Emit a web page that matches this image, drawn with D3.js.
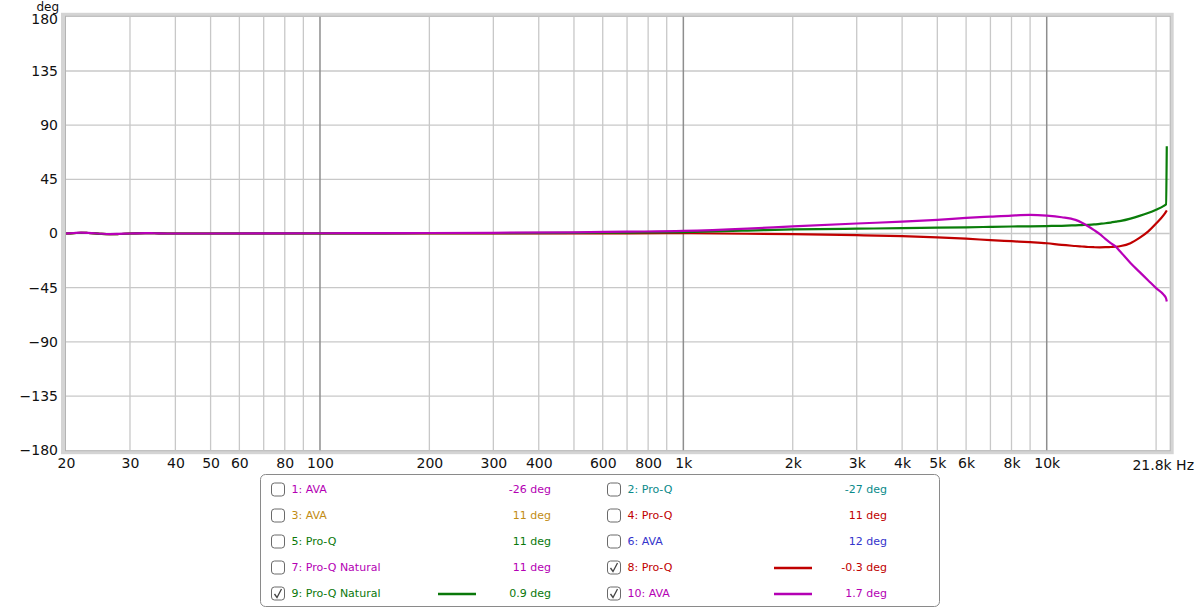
<!DOCTYPE html>
<html><head><meta charset="utf-8">
<script src="https://cdn.jsdelivr.net/npm/d3@7"></script>
<style>
html,body{margin:0;padding:0;background:#fff;}
svg{display:block;font-family:"DejaVu Sans","Noto Sans",sans-serif;}
</style></head>
<body><svg id="c" width="1200" height="609"></svg>
<script>
// ---- data ----
const freqs = [20,21,22,23,24,25,26.4,28,30,33,35,38,40,50,70,100,150,200,300,500,700,1000,1500,2000,3000,4000,5000,6000,7000,8000,9000,10000,11000,12000,12500,13000,13500,14000,14500,15000,15500,16000,17000,18000,19000,20000,21000,21300,21400];
const seriesGreen = [0,0.3,0.6,0.4,0.1,-0.3,-0.6,-0.4,0,0.3,0.2,0,0,0,0.05,0.1,0.15,0.2,0.3,0.5,0.8,1.2,2.4,3.4,4.0,4.4,4.8,5.1,5.5,5.8,6.0,6.2,6.4,6.8,7.0,7.2,7.5,8.0,8.5,9.1,9.8,10.5,12.4,14.6,17.0,19.8,23.0,24.3,72.5];
const seriesRed = [0,0.3,0.6,0.4,0.1,-0.3,-0.6,-0.4,0,0.3,0.2,0,0,0,0,0,0,0,0.05,0.1,0.15,0.2,-0.2,-0.6,-1.4,-2.2,-3.2,-4.3,-5.5,-6.4,-7.2,-8.1,-9.5,-10.4,-10.8,-11.2,-11.4,-11.5,-11.4,-11.2,-11.0,-10.4,-8.0,-3.6,1.6,8.3,15.5,18.2,19.2];
const seriesMagenta = [0,0.4,0.7,0.5,0.2,-0.2,-0.5,-0.3,0,0.3,0.2,0,0,0,0.1,0.2,0.3,0.4,0.6,1.0,1.5,2.1,4.0,5.9,8.3,9.8,11.3,12.9,14.0,14.9,15.4,14.8,13.5,11.3,9.0,6.0,2.8,-0.5,-4.5,-8.0,-11.0,-15.6,-24.5,-31.9,-38.8,-45.4,-51.0,-53.8,-56.5];

const xTickValues = [20,30,40,50,60,80,100,200,300,400,600,800,1000,2000,3000,4000,5000,6000,8000,10000];
const xTickLabels = ["20","30","40","50","60","80","100","200","300","400","600","800","1k","2k","3k","4k","5k","6k","8k","10k"];
const xEndLabel = "21.8k Hz";
const yTickValues = [180,135,90,45,0,-45,-90,-135,-180];
const yUnit = "deg";
const gridFreqs = [20,30,40,50,60,70,80,90,100,200,300,400,500,600,700,800,900,1000,2000,3000,4000,5000,6000,7000,8000,9000,10000,20000];
const decadeFreqs = [100,1000,10000];

const legendLabels = ["1: AVA","2: Pro-Q","3: AVA","4: Pro-Q","5: Pro-Q","6: AVA","7: Pro-Q Natural","8: Pro-Q","9: Pro-Q Natural","10: AVA"];
const legendValues = ["-26 deg","-27 deg","11 deg","11 deg","11 deg","12 deg","11 deg","-0.3 deg","0.9 deg","1.7 deg"];
const legendColors = ["#b400b4","#0a8a8a","#c28c14","#c00000","#0a780a","#3434cc","#b400b4","#c00000","#0a780a","#b400b4"];
const legendChecked = [false,false,false,false,false,false,false,true,true,true];

// ---- layout ----
const svg = d3.select("#c");
const x = d3.scaleLog().domain([20,21800]).range([66,1169.7]);
const y = d3.scaleLinear().domain([-180,180]).range([450.2,16.8]);
const L = 66, R = 1169.7, T = 16.8, B = 450.2;

// frame
svg.append("rect").attr("x",L-3).attr("y",T-2).attr("width",R-L+5).attr("height",B-T+4)
  .attr("fill","none").attr("stroke","#d4d4d4").attr("stroke-width",4);
svg.append("rect").attr("x",L-0.5).attr("y",T-0.5).attr("width",R-L+1).attr("height",B-T+1)
  .attr("fill","#fff").attr("stroke","#b4b4b4").attr("stroke-width",1);

// grid
const g = svg.append("g");
g.selectAll("line.h").data(yTickValues.filter(v=>v!==180 && v!==-180)).join("line")
  .attr("x1",L).attr("x2",R).attr("y1",d=>y(d)).attr("y2",d=>y(d))
  .attr("stroke","#c8c8c8").attr("stroke-width",1.3);
g.selectAll("line.v").data(gridFreqs.filter(f=>f>20)).join("line")
  .attr("x1",d=>x(d)).attr("x2",d=>x(d)).attr("y1",T).attr("y2",B)
  .attr("stroke",d=>decadeFreqs.includes(d)?"#8e8e8e":"#c8c8c8")
  .attr("stroke-width",d=>decadeFreqs.includes(d)?1.5:1.3);

// y axis labels
const yAxis = d3.axisLeft(y).tickValues(yTickValues).tickSize(0).tickPadding(0).tickFormat(d3.format("d"));
const ya = svg.append("g").attr("transform","translate(58,0)").call(yAxis);
ya.select(".domain").remove();
ya.selectAll("text").attr("font-size",14).attr("fill","#111").attr("font-family","DejaVu Sans");
ya.selectAll(".tick").filter(d=>d===180).select("text").attr("dy","0.5em");
svg.append("text").attr("x",59).attr("y",10.5).attr("text-anchor","end").attr("font-size",12).attr("fill","#111").text(yUnit);

// x axis labels
const xAxis = d3.axisBottom(x).tickValues(xTickValues).tickSize(0).tickPadding(0)
  .tickFormat((d,i)=>xTickLabels[i]);
const xa = svg.append("g").attr("transform","translate(0,458)").call(xAxis);
xa.select(".domain").remove();
xa.selectAll("text").attr("font-size",14).attr("fill","#111").attr("font-family","DejaVu Sans");
svg.append("text").attr("x",1194).attr("y",470).attr("text-anchor","end").attr("font-size",14).attr("fill","#111").text(xEndLabel);

// curves
const line = d3.line().x((d,i)=>x(freqs[i])).y(d=>y(d)).curve(d3.curveMonotoneX);
const curves = [
  {v: seriesRed, c: "#c00000"},
  {v: seriesGreen, c: "#0a7d0a"},
  {v: seriesMagenta, c: "#b800b8"}
];
svg.append("g").selectAll("path").data(curves).join("path")
  .attr("d",d=>line(d.v)).attr("fill","none").attr("stroke",d=>d.c)
  .attr("stroke-width",2.2).attr("stroke-linejoin","round");

// legend
const lg = svg.append("g");
lg.append("rect").attr("x",260.5).attr("y",474.5).attr("width",679).attr("height",132)
  .attr("rx",5).attr("fill","#fff").attr("stroke","#8a8a8a").attr("stroke-width",1);
const colX = [
  {box:271.5, label:291.5, l1:438, l2:476, val:551},
  {box:607.5, label:627.5, l1:774, l2:812, val:887}
];
legendLabels.forEach((lab,i)=>{
  const col = colX[i%2], row = Math.floor(i/2);
  const cy = 489.5 + row*26;
  const item = lg.append("g");
  item.append("rect").attr("x",col.box).attr("y",cy-6.5).attr("width",13).attr("height",13)
    .attr("rx",3).attr("fill","#fff").attr("stroke","#6a6a6a").attr("stroke-width",1);
  if (legendChecked[i]) {
    item.append("path").attr("d",`M${col.box+3},${cy+0.5} L${col.box+5.5},${cy+4} L${col.box+10},${cy-4.5}`)
      .attr("fill","none").attr("stroke","#444").attr("stroke-width",1.3);
    item.append("line").attr("x1",col.l1).attr("x2",col.l2).attr("y1",cy+0.5).attr("y2",cy+0.5)
      .attr("stroke",legendColors[i]).attr("stroke-width",2.5);
  }
  item.append("text").attr("x",col.label).attr("y",cy).attr("dy","0.36em").attr("font-size",11)
    .attr("fill",legendColors[i]).text(lab);
  item.append("text").attr("x",col.val).attr("y",cy).attr("dy","0.36em").attr("font-size",11)
    .attr("text-anchor","end").attr("fill",legendColors[i]).text(legendValues[i]);
});
</script></body></html>
